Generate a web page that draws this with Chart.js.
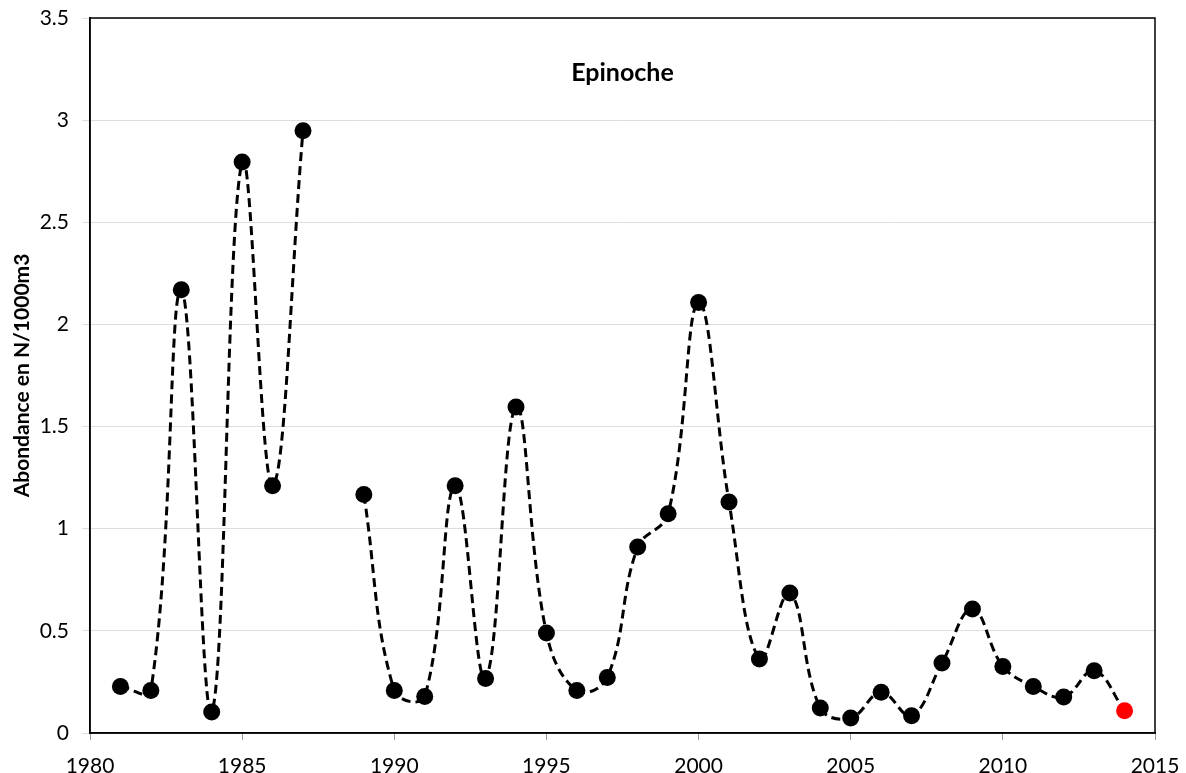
<!DOCTYPE html>
<html>
<head>
<meta charset="utf-8">
<script src="https://cdn.jsdelivr.net/npm/chart.js@4"></script>
<style>
  html, body { margin: 0; padding: 0; background: #fff; }
  #wrap { width: 1186px; height: 773px; }
</style>
</head>
<body>
<div id="wrap"><canvas id="epinocheChart"></canvas></div>
<script>
const years = [1981, 1982, 1983, 1984, 1985, 1986, 1987, 1988, 1989, 1990,
  1991, 1992, 1993, 1994, 1995, 1996, 1997, 1998, 1999, 2000,
  2001, 2002, 2003, 2004, 2005, 2006, 2007, 2008, 2009, 2010,
  2011, 2012, 2013, 2014];
const abondance = [0.228, 0.208, 2.17, 0.103, 2.795, 1.21, 2.948, null, 1.167, 0.208,
  0.179, 1.21, 0.267, 1.596, 0.489, 0.208, 0.272, 0.91, 1.073, 2.107,
  1.131, 0.362, 0.685, 0.122, 0.073, 0.199, 0.085, 0.343, 0.607, 0.326,
  0.228, 0.176, 0.305, 0.109];
const xTicks = [1980, 1985, 1990, 1995, 2000, 2005, 2010, 2015];
const yTicks = [0, 0.5, 1, 1.5, 2, 2.5, 3, 3.5];
const titleText = "Epinoche";
const yLabel = "Abondance en N/1000m3";

const points = years.map((yr, i) => ({ x: yr, y: abondance[i] }));
const lastIdx = years.length - 1;

// cadre noir + titre dans la zone du graphe
const frameAndTitle = {
  id: "frameAndTitle",
  afterDraw(chart) {
    const { ctx, chartArea } = chart;
    ctx.save();
    ctx.strokeStyle = "#000";
    ctx.lineWidth = 1.5;
    ctx.strokeRect(chartArea.left, chartArea.top, chartArea.right - chartArea.left, chartArea.bottom - chartArea.top);
    ctx.fillStyle = "#000";
    ctx.font = "bold 25px Lato";
    ctx.textAlign = "center";
    ctx.textBaseline = "middle";
    ctx.fillText(titleText, (chartArea.left + chartArea.right) / 2, chartArea.top + 55);
    ctx.restore();
  }
};

const ctx = document.getElementById("epinocheChart").getContext("2d");
new Chart(ctx, {
  type: "line",
  data: {
    datasets: [
      {
        data: points,
        borderColor: "#000",
        borderWidth: 3,
        borderDash: [9, 5],
        tension: 0.4,
        spanGaps: false,
        pointRadius: 8.5,
        pointHoverRadius: 8.5,
        pointBorderWidth: 0,
        pointBackgroundColor: (c) => (c.dataIndex === lastIdx ? "#ff0000" : "#000"),
        pointBorderColor: (c) => (c.dataIndex === lastIdx ? "#ff0000" : "#000"),
      },
    ],
  },
  options: {
    responsive: true,
    maintainAspectRatio: false,
    animation: false,
    layout: { padding: { left: 0, right: 31, top: 18, bottom: 0 } },
    plugins: {
      legend: { display: false },
      tooltip: { enabled: false },
    },
    scales: {
      x: {
        type: "linear",
        min: xTicks[0],
        max: xTicks[xTicks.length - 1],
        afterBuildTicks: (axis) => { axis.ticks = xTicks.map((v) => ({ value: v })); },
        afterFit: (axis) => {
          axis.height = 40;
          axis.paddingLeft = 0;
          axis.paddingRight = 0;
        },
        grid: { drawOnChartArea: false, drawTicks: true, tickLength: 7, color: "#999" },
        border: { display: true, color: "#000", width: 1.5 },
        ticks: {
          color: "#000",
          font: { family: "Lato", size: 21 },
          padding: 14,
          maxRotation: 0,
          callback: (v) => String(v),
        },
      },
      y: {
        min: yTicks[0],
        max: yTicks[yTicks.length - 1],
        afterBuildTicks: (axis) => { axis.ticks = yTicks.map((v) => ({ value: v })); },
        afterFit: (axis) => {
          axis.width = 90;
          axis.paddingTop = 0;
          axis.paddingBottom = 0;
        },
        grid: { color: "#dedede", lineWidth: 1, drawTicks: true, tickLength: 8 },
        border: { display: true, color: "#000", width: 1.5 },
        ticks: {
          color: "#000",
          font: { family: "Lato", size: 21 },
          padding: 13,
          callback: (v) => String(v),
        },
        title: {
          display: true,
          text: yLabel,
          color: "#000",
          font: { family: "Lato", size: 21, weight: "bold" },
          padding: { top: 10, bottom: 0 },
        },
      },
    },
  },
  plugins: [frameAndTitle],
});
</script>
</body>
</html>
